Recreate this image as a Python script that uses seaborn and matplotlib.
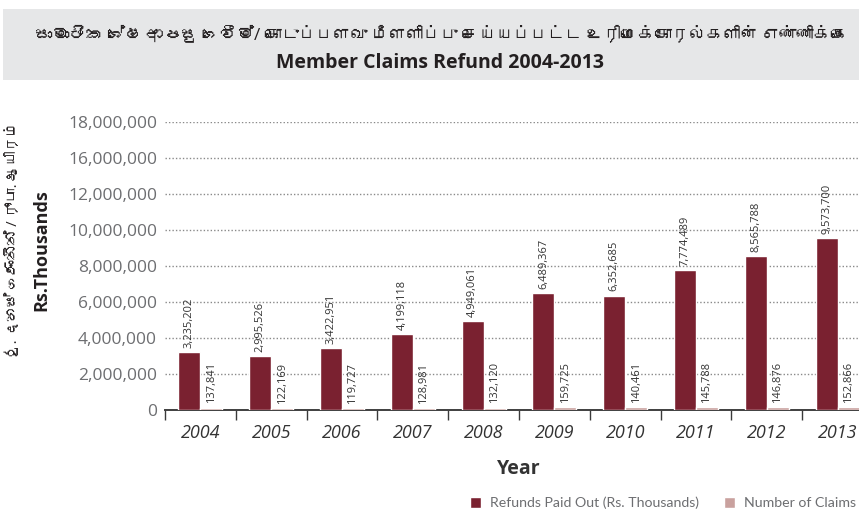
import matplotlib
matplotlib.use("Agg")
import matplotlib.pyplot as plt
from matplotlib import font_manager as fm
from matplotlib.ft2font import FT2Font
from matplotlib.patches import Rectangle
import seaborn as sns
import pandas as pd

# ---- data -------------------------------------------------------------
years = ["2004", "2005", "2006", "2007", "2008",
         "2009", "2010", "2011", "2012", "2013"]
refunds = [3235202, 2995526, 3422951, 4199118, 4949061,
           6489367, 6352685, 7774489, 8565788, 9573700]
claims = [137841, 122169, 119727, 128981, 132120,
          159725, 140461, 145788, 146876, 152866]
series_names = ["Refunds Paid Out (Rs. Thousands)", "Number of Claims"]
ytick_values = [0, 2000000, 4000000, 6000000, 8000000,
                10000000, 12000000, 14000000, 16000000]
ytick_labels = ["0", "2,000,000", "4,000,000", "6,000,000", "8,000,000",
                "10,000,000", "12,000,000", "16,000,000", "18,000,000"]

title_local = ("සාමාජික ශේෂ ආපසු ගෙවීම්/ "
               "கொடுப்பளவு மீளளிப்பு செய்யப்பட்ட உரிமைக்கோரல்களின் எண்ணிக்கை")
title_en = "Member Claims Refund 2004-2013"
ylabel_local = "රු. දහස් ගණනින් / ரூபா. ஆயிரம்"
ylabel_en = "Rs.Thousands"
xlabel = "Year"

MAROON = "#7a2130"
PINK = "#c9a19e"
GREY_TXT = "#6d6e71"
DARK_TXT = "#333333"

# ---- fonts ------------------------------------------------------------
sns.set_theme(style="white")


def fonts_covering(codepoints):
    found = []
    for entry in fm.fontManager.ttflist:
        if entry.name in found:
            continue
        try:
            cmap = FT2Font(entry.fname).get_charmap()
        except Exception:
            continue
        if all(cp in cmap for cp in codepoints):
            found.append(entry.name)
    return found


script_fonts = fonts_covering([0x0DC3]) + fonts_covering([0x0B95])
BASE = "Open Sans"
plt.rcParams["font.family"] = [BASE, "DejaVu Sans"]
local_family = [BASE] + script_fonts + ["DejaVu Sans"]

# ---- frame ------------------------------------------------------------
W, H = 859, 525
fig = plt.figure(figsize=(W / 100, H / 100), dpi=100)

# grey title band
fig.patches.append(Rectangle((3 / W, 1 - 80 / H), 1, 71 / H,
                             transform=fig.transFigure,
                             facecolor="#e6e7e8", edgecolor="none", zorder=0))
fig.text(441 / W, 1 - 34 / H, title_local, ha="center", va="center",
         fontsize=12.3, color="#231f20", family=local_family)
fig.text(440 / W, 1 - 63 / H, title_en, ha="center", va="center",
         fontsize=14, fontweight="bold", color="#231f20")

# axes: category band is 70.8 px wide, the last one runs past the edge
left_px, right_px, top_px, bottom_px = 165, 165 + 708, 122, 410
ax = fig.add_axes([left_px / W, 1 - bottom_px / H,
                   (right_px - left_px) / W, (bottom_px - top_px) / H])

df = pd.DataFrame({
    "Year": years * 2,
    "Series": [series_names[0]] * len(years) + [series_names[1]] * len(years),
    "Value": refunds + claims,
})
sns.barplot(data=df, x="Year", y="Value", hue="Series", ax=ax,
            palette={series_names[0]: MAROON, series_names[1]: PINK},
            saturation=1, width=0.62, gap=0, dodge=True, errorbar=None)
for patch in ax.patches:
    patch.set_zorder(3)

for container, vals in zip(ax.containers, [refunds, claims]):
    ax.bar_label(container, labels=[f"{v:,}" for v in vals], rotation=90,
                 padding=3, fontsize=8, color="#333333")

ax.set_xlim(-0.5, len(years) - 0.5)
ax.set_ylim(0, 16000000)
ax.set_yticks(ytick_values)
ax.set_yticklabels(ytick_labels)
ax.tick_params(axis="y", length=0, pad=5.8, labelsize=12.5,
               labelcolor=GREY_TXT)
ax.yaxis.grid(True, linestyle=(0, (1, 1.5)), color="#8a8a8a", linewidth=1)
ax.set_axisbelow(True)

ax.set_xticks(range(len(years)))
ax.set_xticklabels(years, fontstyle="italic")
ax.set_xticks([i - 0.5 for i in range(len(years) + 1)], minor=True)
ax.tick_params(axis="x", which="major", length=0, pad=10, labelsize=13,
               labelcolor=DARK_TXT)
ax.tick_params(axis="x", which="minor", length=7, width=1, color="#3a3a3a",
               direction="out", bottom=True)

for side in ["top", "right", "left"]:
    ax.spines[side].set_visible(False)
ax.spines["bottom"].set_color("#3f3f3f")
ax.spines["bottom"].set_linewidth(1.4)

ax.set_xlabel(xlabel, fontsize=14, fontweight="bold", color=DARK_TXT,
              labelpad=12)
ax.set_ylabel("")
fig.text(14 / W, 1 - 240 / H, ylabel_local, rotation=90, ha="center",
         va="center", fontsize=10.5, color="#231f20", family=local_family)
fig.text(41 / W, 1 - 250 / H, ylabel_en, rotation=90, ha="center",
         va="center", fontsize=13, fontweight="bold", color="#231f20")

sns.move_legend(ax, "center left", bbox_to_anchor=(457 / W, 1 - 503 / H),
                bbox_transform=fig.transFigure, ncol=2, frameon=False,
                title=None, prop={"family": "Lato", "size": 10.2},
                labelcolor=GREY_TXT,
                handlelength=0.78, handleheight=0.78, handletextpad=0.64,
                columnspacing=1.76)

fig.savefig("out.png", dpi=100)
